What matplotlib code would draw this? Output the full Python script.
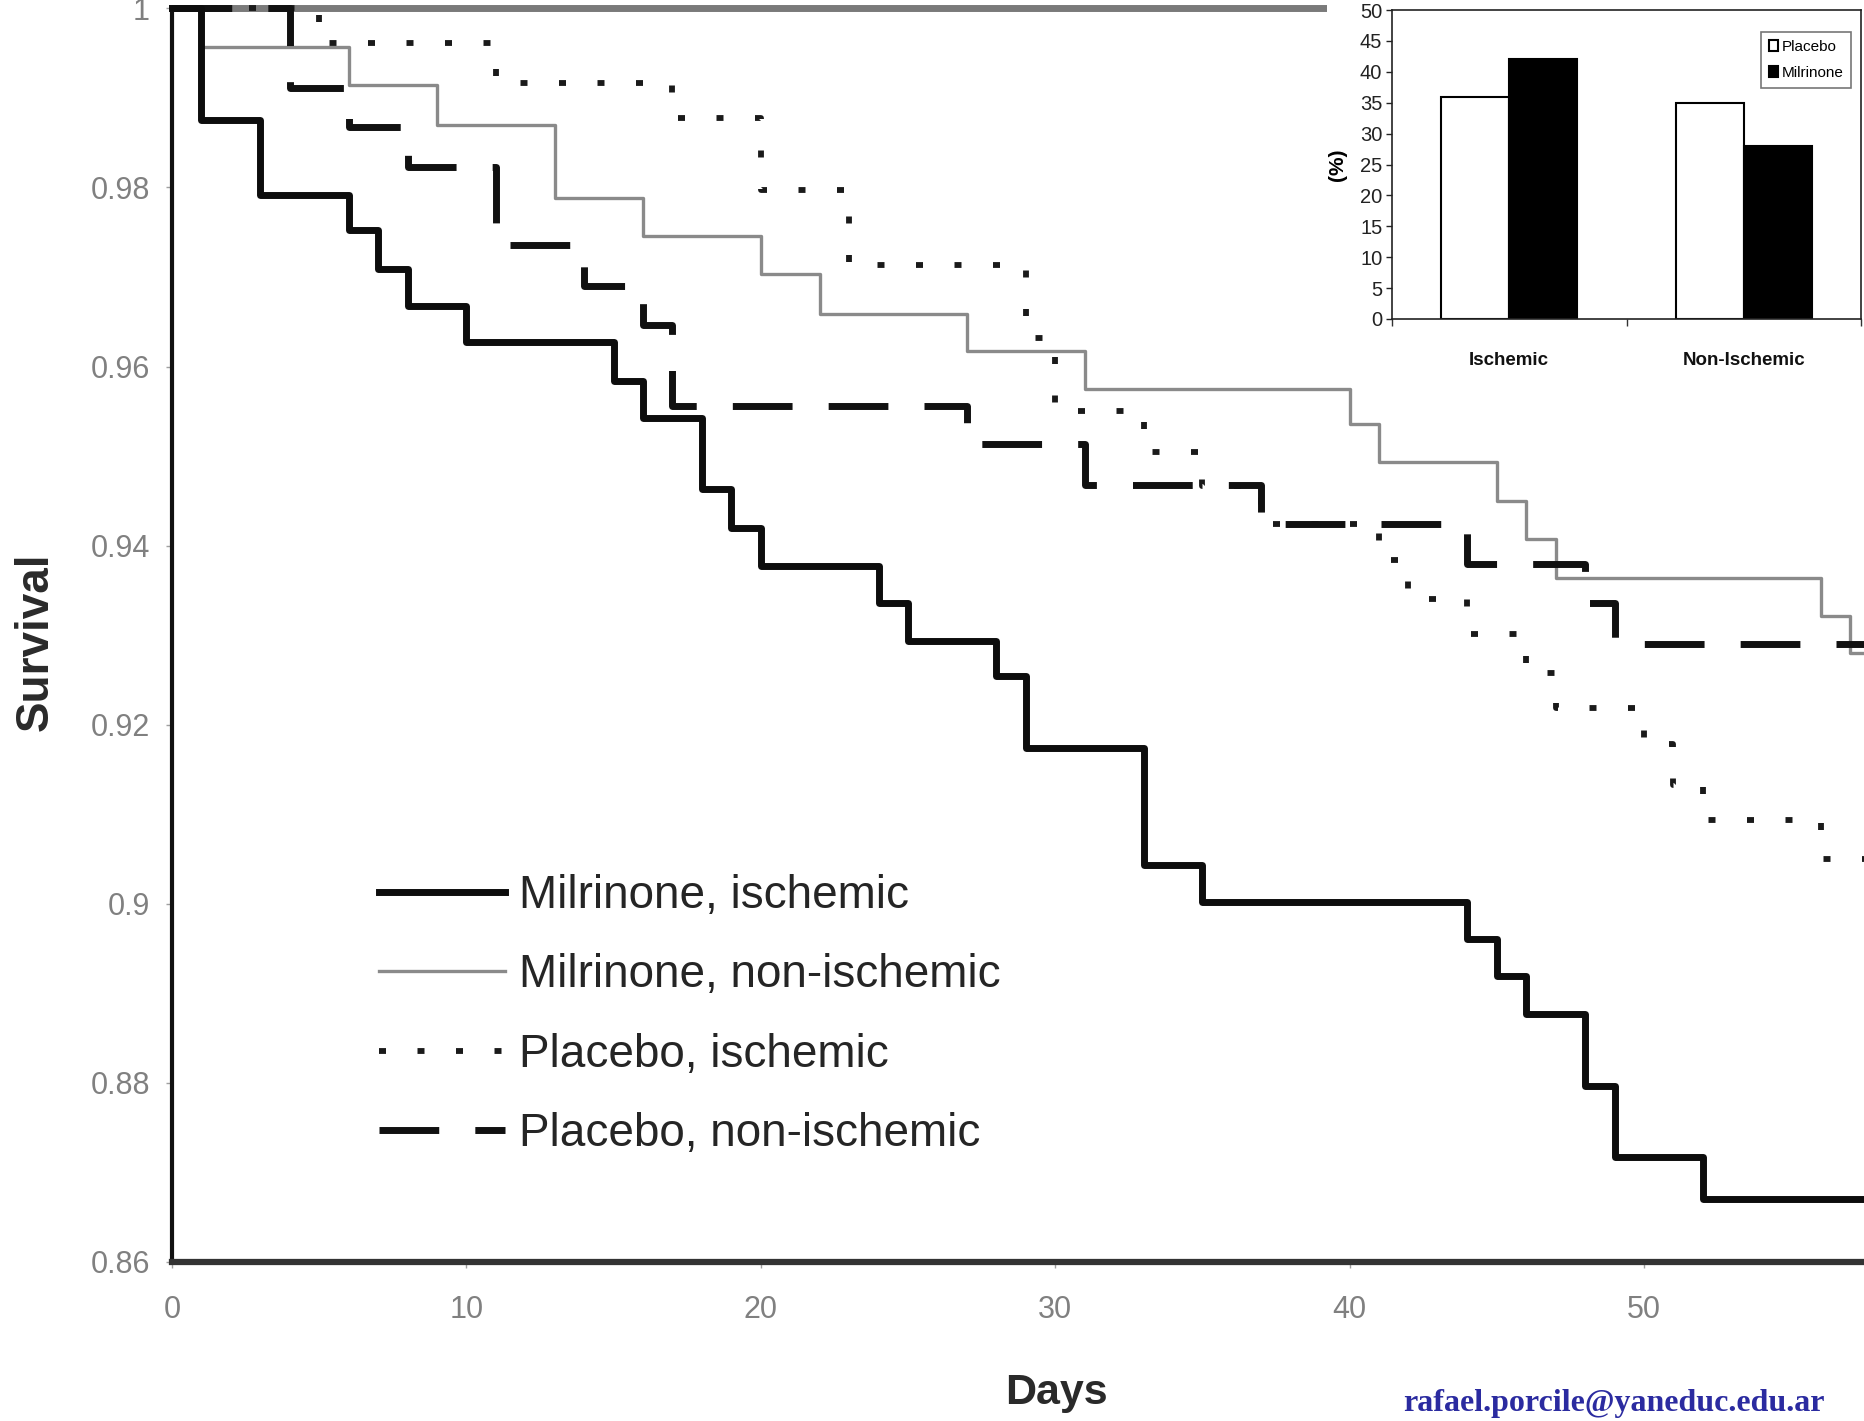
import matplotlib
matplotlib.use('Agg')
import matplotlib.pyplot as plt
from matplotlib.lines import Line2D
from matplotlib.patches import Rectangle, Patch

# ---------------- data ----------------
days_mil_isch = [0, 1, 3, 6, 7, 8, 10, 15, 16, 18, 19, 20, 24, 25, 28, 29, 33, 35, 44, 45, 46, 48, 49, 52, 60]
surv_mil_isch = [1.0, 0.9875, 0.9791, 0.9752, 0.9709, 0.9668, 0.9627, 0.9584, 0.9543, 0.9463, 0.9420, 0.9377,
                 0.9336, 0.9293, 0.9254, 0.9174, 0.9043, 0.9002, 0.8961, 0.8919, 0.8877, 0.8797, 0.8717, 0.8670, 0.8670]

days_mil_non = [0, 1, 6, 9, 13, 16, 20, 22, 27, 31, 40, 41, 45, 46, 47, 56, 57, 60]
surv_mil_non = [1.0, 0.9957, 0.9914, 0.9870, 0.9788, 0.9746, 0.9703, 0.9659, 0.9617, 0.9575, 0.9536, 0.9493,
                0.9450, 0.9407, 0.9364, 0.9321, 0.9280, 0.9280]

days_pla_isch = [0, 5, 11, 17, 20, 23, 29, 30, 33, 35, 37, 41, 42, 44, 46, 47, 50, 51, 52, 56, 60]
surv_pla_isch = [1.0, 0.9961, 0.9917, 0.9878, 0.9797, 0.9713, 0.9632, 0.9550, 0.9504, 0.9467, 0.9424, 0.9384,
                 0.9340, 0.9301, 0.9258, 0.9219, 0.9178, 0.9133, 0.9094, 0.9050, 0.9050]

days_pla_non = [0, 4, 6, 8, 11, 14, 16, 17, 27, 31, 37, 44, 48, 49, 60]
surv_pla_non = [1.0, 0.9911, 0.9867, 0.9823, 0.9736, 0.9690, 0.9646, 0.9556, 0.9513, 0.9468, 0.9424, 0.9380,
                0.9336, 0.9290, 0.9290]

series_labels = ["Milrinone, ischemic", "Milrinone, non-ischemic", "Placebo, ischemic", "Placebo, non-ischemic"]

y_ticks = [0.86, 0.88, 0.90, 0.92, 0.94, 0.96, 0.98, 1.0]
y_ticklabels = ["0.86", "0.88", "0.9", "0.92", "0.94", "0.96", "0.98", "1"]
x_ticks = [0, 10, 20, 30, 40, 50]

inset_categories = ["Ischemic", "Non-Ischemic"]
inset_placebo = [36, 35]
inset_milrinone = [42, 28]
inset_yticks = [0, 5, 10, 15, 20, 25, 30, 35, 40, 45, 50]

email = "rafael.porcile@yaneduc.edu.ar"

# ---------------- figure ----------------
plt.rcParams['font.family'] = ['Liberation Sans', 'DejaVu Sans']
W, H = 1864, 1421
fig = plt.figure(figsize=(W / 100, H / 100), dpi=100)
fig.patch.set_facecolor('white')

ax_left, ax_right, ax_top, ax_bot = 172, 1864, 8.3, 1262
ax = fig.add_axes([ax_left / W, 1 - ax_bot / H, (ax_right - ax_left) / W, (ax_bot - ax_top) / H])
ax.set_zorder(0)

ax.step(days_mil_non, surv_mil_non, where='post', color='#8a8a8a', lw=2.4, clip_on=False,
        label=series_labels[1], zorder=3)
ax.step(days_pla_isch, surv_pla_isch, where='post', color='#1a1a1a', lw=4.2, clip_on=False,
        linestyle=(0, (1.2, 5.4)), dash_capstyle='butt', solid_capstyle='butt',
        label=series_labels[2], zorder=4)
ax.step(days_pla_non, surv_pla_non, where='post', color='#111111', lw=5.0, clip_on=False,
        linestyle=(0, (8.6, 5.2)), dash_capstyle='butt', label=series_labels[3], zorder=5)
ax.step(days_mil_isch, surv_mil_isch, where='post', color='#0d0d0d', lw=5.0, clip_on=False,
        label=series_labels[0], zorder=6)

ax.set_xlim(0, (ax_right - ax_left) / 29.44)
ax.set_ylim(0.86, 1.0)
ax.set_yticks(y_ticks)
ax.set_yticklabels(y_ticklabels)
ax.set_xticks(x_ticks)
ax.tick_params(axis='both', colors='#a0a0a0', labelcolor='#808080', labelsize=22, length=4, width=1)
ax.tick_params(axis='y', pad=12)
ax.tick_params(axis='x', pad=20)

ax.spines['right'].set_visible(False)
ax.spines['left'].set_color('#111111')
ax.spines['left'].set_linewidth(3)
ax.spines['bottom'].set_color('#333333')
ax.spines['bottom'].set_linewidth(4.5)
ax.spines['top'].set_color('#7a7a7a')
ax.spines['top'].set_linewidth(5)

ax.set_ylabel('Survival', fontsize=33, fontweight='bold', color='#2a2a2a', va='center')
ax.yaxis.set_label_coords((36 - ax_left) / (ax_right - ax_left), (ax_bot - 642) / (ax_bot - ax_top))
ax.set_xlabel('Days', fontsize=31, fontweight='bold', color='#2a2a2a', va='center')
ax.xaxis.set_label_coords((1056 - ax_left) / (ax_right - ax_left), (ax_bot - 1393) / (ax_bot - ax_top))

# main legend (order as in reference)
h, l = ax.get_legend_handles_labels()
order = [l.index(s) for s in series_labels]
leg = ax.legend([h[i] for i in order], [l[i] for i in order], loc='upper left',
                bbox_to_anchor=(379 / W, 1 - 874 / H), bbox_transform=fig.transFigure,
                frameon=False, fontsize=33, handlelength=2.75, handletextpad=0.3,
                labelspacing=0.77, borderpad=0, borderaxespad=0)
for t in leg.get_texts():
    t.set_color('#252525')

# white background for inset
fig.patches.append(Rectangle((1327 / W, 1 - 386 / H), (W - 1327) / W, (386 - 3) / H,
                             transform=fig.transFigure, facecolor='white', edgecolor='none', zorder=1))

# ---------------- inset bar chart ----------------
in_l, in_r, in_t, in_b = 1392, 1861, 10, 319
axi = fig.add_axes([in_l / W, 1 - in_b / H, (in_r - in_l) / W, (in_b - in_t) / H])
axi.set_zorder(2)
axi.set_facecolor('white')
bw = 0.29
xpos = list(range(len(inset_categories)))
axi.bar([x - bw / 2 for x in xpos], inset_placebo, width=bw, color='white', edgecolor='black',
        linewidth=1.5, label='Placebo')
axi.bar([x + bw / 2 for x in xpos], inset_milrinone, width=bw, color='black', edgecolor='black',
        linewidth=1.5, label='Milrinone')
axi.set_xlim(-0.5, 1.5)
axi.set_ylim(0, 50)
axi.set_yticks(inset_yticks)
axi.tick_params(axis='y', labelsize=14.5, length=4, width=1, pad=3, colors='#222222')
axi.set_xticks(xpos)
axi.set_xticklabels(inset_categories, fontsize=13.5, fontweight='bold')
axi.tick_params(axis='x', length=0, pad=24, colors='#111111')
axi.set_xticks([-0.5, 0.5, 1.5], minor=True)
axi.tick_params(axis='x', which='minor', length=5, width=1, color='#333333')
for s in axi.spines.values():
    s.set_linewidth(1.2)
    s.set_color('#222222')
axi.set_ylabel('(%)', fontsize=15, fontweight='bold', va='center')
axi.yaxis.set_label_coords((1337 - in_l) / (in_r - in_l), 0.5)
il = axi.legend(loc='upper left', bbox_to_anchor=(1761 / W, 1 - 32 / H), bbox_transform=fig.transFigure,
                fontsize=11, handlelength=0.6, handleheight=0.7, handletextpad=0.25, borderpad=0.5,
                labelspacing=0.8, borderaxespad=0, fancybox=False, framealpha=1, edgecolor='#777777')
il.get_frame().set_linewidth(1.2)

# ---------------- email footer ----------------
fig.text(1614 / W, 1 - 1411 / H, email, ha='center', va='baseline', fontsize=23, fontweight='bold',
         family=['Liberation Serif', 'DejaVu Serif'], color='#2b2ba0')

fig.savefig('out.png', dpi=100, facecolor='white')
